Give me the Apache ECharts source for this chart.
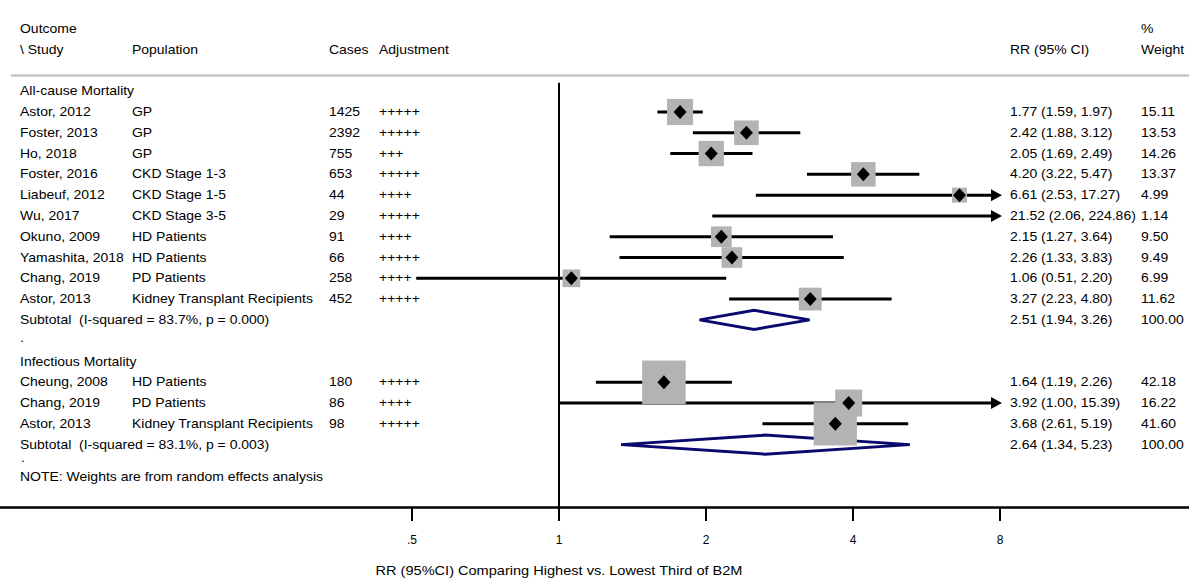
<!DOCTYPE html>
<html>
<head>
<meta charset="utf-8">
<script src="https://cdn.jsdelivr.net/npm/echarts@6/dist/echarts.min.js"></script>
<style>
  html, body { margin: 0; padding: 0; background: #fff; }
  #chart { width: 1189px; height: 585px; }
</style>
</head>
<body>
<div id="chart"></div>
<script>
// All-cause mortality
var allStudy = ['Astor, 2012', 'Foster, 2013', 'Ho, 2018', 'Foster, 2016', 'Liabeuf, 2012', 'Wu, 2017', 'Okuno, 2009', 'Yamashita, 2018', 'Chang, 2019', 'Astor, 2013'];
var allPop = ['GP', 'GP', 'GP', 'CKD Stage 1-3', 'CKD Stage 1-5', 'CKD Stage 3-5', 'HD Patients', 'HD Patients', 'PD Patients', 'Kidney Transplant Recipients'];
var allCases = [1425, 2392, 755, 653, 44, 29, 91, 66, 258, 452];
var allAdj = ['+++++', '+++++', '+++', '+++++', '++++', '+++++', '++++', '+++++', '++++', '+++++'];
var allRR = [1.77, 2.42, 2.05, 4.20, 6.61, 21.52, 2.15, 2.26, 1.06, 3.27];
var allLo = [1.59, 1.88, 1.69, 3.22, 2.53, 2.06, 1.27, 1.33, 0.51, 2.23];
var allHi = [1.97, 3.12, 2.49, 5.47, 17.27, 224.86, 3.64, 3.83, 2.20, 4.80];
var allW = [15.11, 13.53, 14.26, 13.37, 4.99, 1.14, 9.50, 9.49, 6.99, 11.62];
var allSub = [2.51, 1.94, 3.26];
var allSubText = 'Subtotal\u00a0 (I-squared = 83.7%, p = 0.000)';

// Infectious mortality
var infStudy = ['Cheung, 2008', 'Chang, 2019', 'Astor, 2013'];
var infPop = ['HD Patients', 'PD Patients', 'Kidney Transplant Recipients'];
var infCases = [180, 86, 98];
var infAdj = ['+++++', '++++', '+++++'];
var infRR = [1.64, 3.92, 3.68];
var infLo = [1.19, 1.00, 2.61];
var infHi = [2.26, 15.39, 5.19];
var infW = [42.18, 16.22, 41.60];
var infSub = [2.64, 1.34, 5.23];
var infSubText = 'Subtotal\u00a0 (I-squared = 83.1%, p = 0.003)';

// x axis ticks
var tickVals = [0.5, 1, 2, 4, 8];
var tickLabels = ['.5', '1', '2', '4', '8'];
var xTitle = 'RR (95%CI) Comparing Highest vs. Lowest Third of B2M';

var FONT = 'Liberation Sans';
var SX = 1.165; // horizontal stretch of the text
var NAVY = '#0a0a6e';
var BOX = '#b3b3b3';
var CLIP = Math.log2(8);

// rows: 0..9 all-cause, 10 subtotal, 12 header, 13..15 infectious, 16 subtotal
var allRows = allStudy.map(function (s, i) { return i; });
var infRows = infStudy.map(function (s, i) { return 13 + i; });

var boxData = [], pointData = [], ciData = [], subData = [];
function addGroup(rr, lo, hi, w, rows, sub, subRow) {
  rr.forEach(function (v, i) {
    if (v <= 8) {
      boxData.push([Math.log2(v), rows[i], w[i]]);
      pointData.push([Math.log2(v), rows[i]]);
    }
    ciData.push([Math.log2(lo[i]), Math.log2(hi[i]), rows[i]]);
  });
  subData.push([Math.log2(sub[1]), Math.log2(sub[0]), Math.log2(sub[2]), subRow]);
}
addGroup(allRR, allLo, allHi, allW, allRows, allSub, 10);
addGroup(infRR, infLo, infHi, infW, infRows, infSub, 16);

var chart = echarts.init(document.getElementById('chart'), null, { renderer: 'svg' });

var option = {
  animation: false,
  grid: { left: 0, right: 0, top: 0, bottom: 78 },
  xAxis: {
    type: 'value',
    min: -3.803,
    max: 4.286,
    splitLine: { show: false },
    axisLine: { show: true, onZero: false, lineStyle: { color: '#000', width: 2.5 } },
    axisTick: {
      show: true,
      customValues: tickVals.map(function (v) { return Math.log2(v); }),
      length: 14,
      lineStyle: { color: '#000', width: 2 }
    },
    axisLabel: {
      customValues: tickVals.map(function (v) { return Math.log2(v); }),
      margin: 27,
      color: '#000',
      fontFamily: FONT,
      fontSize: 12,
      formatter: function (v) {
        var i = tickVals.findIndex(function (t) { return Math.abs(Math.log2(t) - v) < 1e-6; });
        return i >= 0 ? tickLabels[i] : '';
      }
    }
  },
  yAxis: {
    type: 'value',
    inverse: true,
    min: -5.385,
    max: 19,
    show: false
  },
  series: [
    {
      // null line at RR = 1
      type: 'custom',
      silent: true,
      data: [[0, -1.4, 19]],
      renderItem: function (params, api) {
        var a = api.coord([api.value(0), api.value(1)]);
        var b = api.coord([api.value(0), api.value(2)]);
        return {
          type: 'line',
          shape: { x1: a[0], y1: a[1], x2: b[0], y2: b[1] },
          style: { stroke: '#000', lineWidth: 2 }
        };
      }
    },
    {
      type: 'scatter',
      symbol: 'rect',
      silent: true,
      itemStyle: { color: BOX, opacity: 1 },
      symbolSize: function (d) { return 6.7 * Math.sqrt(d[2]); },
      data: boxData
    },
    {
      type: 'custom',
      silent: true,
      data: ciData,
      renderItem: function (params, api) {
        var lo = api.value(0), hi = api.value(1), row = api.value(2);
        var clipped = hi > CLIP;
        var p1 = api.coord([lo, row]);
        var p2 = api.coord([clipped ? CLIP : hi, row]);
        var children = [{
          type: 'line',
          shape: { x1: p1[0], y1: p1[1], x2: clipped ? p2[0] - 6 : p2[0], y2: p2[1] },
          style: { stroke: '#000', lineWidth: 3 }
        }];
        if (clipped) {
          children.push({
            type: 'polygon',
            shape: { points: [[p2[0] + 2, p2[1]], [p2[0] - 9, p2[1] - 6], [p2[0] - 9, p2[1] + 6]] },
            style: { fill: '#000' }
          });
        }
        return { type: 'group', children: children };
      }
    },
    {
      type: 'scatter',
      symbol: 'diamond',
      symbolSize: [13, 14],
      silent: true,
      itemStyle: { color: '#000', opacity: 1 },
      data: pointData
    },
    {
      type: 'custom',
      silent: true,
      data: subData,
      renderItem: function (params, api) {
        var row = api.value(3);
        var l = api.coord([api.value(0), row]);
        var c = api.coord([api.value(1), row]);
        var r = api.coord([api.value(2), row]);
        var h = 9.5;
        return {
          type: 'polygon',
          shape: { points: [[l[0], l[1]], [c[0], c[1] - h], [r[0], r[1]], [c[0], c[1] + h]] },
          style: { fill: 'none', stroke: NAVY, lineWidth: 3, lineJoin: 'miter' }
        };
      }
    }
  ]
};
chart.setOption(option);

// table texts, placed on the rows of the y axis
var colX = [20, 132, 329, 379, 1010, 1141];
function rowY(r) { return chart.convertToPixel({ yAxisIndex: 0 }, r); }
function txt(x, r, s) {
  return {
    type: 'text',
    x: x,
    y: rowY(r),
    scaleX: SX,
    silent: true,
    style: {
      text: s,
      fontFamily: FONT,
      fontSize: 12,
      fill: '#000',
      verticalAlign: 'middle',
      align: 'left'
    }
  };
}
function fmt(v) { return v.toFixed(2); }

var g = [];
g.push(txt(colX[0], -4, 'Outcome'));
g.push(txt(colX[5], -4, '%'));
['\\ Study', 'Population', 'Cases', 'Adjustment', 'RR (95% CI)', 'Weight'].forEach(function (s, i) {
  g.push(txt(colX[i], -3, s));
});
g.push(txt(colX[0], -1, 'All-cause Mortality'));

function groupText(study, pop, cases, adj, rr, lo, hi, w, rows) {
  study.forEach(function (s, i) {
    var r = rows[i];
    g.push(txt(colX[0], r, s));
    g.push(txt(colX[1], r, pop[i]));
    g.push(txt(colX[2], r, String(cases[i])));
    g.push(txt(colX[3], r, adj[i]));
    g.push(txt(colX[4], r, fmt(rr[i]) + ' (' + fmt(lo[i]) + ', ' + fmt(hi[i]) + ')'));
    g.push(txt(colX[5], r, fmt(w[i])));
  });
}
groupText(allStudy, allPop, allCases, allAdj, allRR, allLo, allHi, allW, allRows);
g.push(txt(colX[0], 10, allSubText));
g.push(txt(colX[4], 10, fmt(allSub[0]) + ' (' + fmt(allSub[1]) + ', ' + fmt(allSub[2]) + ')'));
g.push(txt(colX[5], 10, '100.00'));
g.push(txt(colX[0], 10.85, '.'));
g.push(txt(colX[0], 12, 'Infectious Mortality'));
groupText(infStudy, infPop, infCases, infAdj, infRR, infLo, infHi, infW, infRows);
g.push(txt(colX[0], 16, infSubText));
g.push(txt(colX[4], 16, fmt(infSub[0]) + ' (' + fmt(infSub[1]) + ', ' + fmt(infSub[2]) + ')'));
g.push(txt(colX[5], 16, '100.00'));
g.push(txt(colX[0] + 1, 16.65, '.'));
g.push(txt(colX[0], 17.55, 'NOTE: Weights are from random effects analysis'));

// header separator
var sepY = rowY(-1.75);
g.push({
  type: 'line',
  silent: true,
  shape: { x1: 11, y1: sepY, x2: 1189, y2: sepY },
  style: { stroke: '#c4c4c4', lineWidth: 2.5 }
});

// axis title, centred on the plot
var titleX = chart.convertToPixel({ xAxisIndex: 0 }, 0);
g.push({
  type: 'text',
  x: titleX,
  y: 571,
  scaleX: SX,
  silent: true,
  style: { text: xTitle, fontFamily: FONT, fontSize: 12.5, fill: '#000', align: 'center', verticalAlign: 'middle' }
});

chart.setOption({ graphic: g });

window.addEventListener('resize', function () {
  chart.resize();
});
</script>
</body>
</html>
